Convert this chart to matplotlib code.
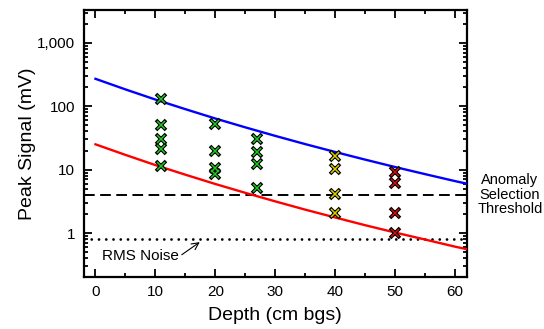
import matplotlib
matplotlib.use("Agg")
import matplotlib.pyplot as plt
from matplotlib.ticker import FixedLocator, LogLocator, NullFormatter, MultipleLocator

plt.rcParams['font.family'] = ['Liberation Sans', 'DejaVu Sans']

# Model envelopes (upper and lower expected peak signal vs depth)
curve_depth = [0, 5, 10, 15, 20, 25, 30, 35, 40, 45, 50, 55, 60, 62]
upper_mv = [271, 184.5, 127.6, 90, 64.1, 46.5, 34.1, 25.3, 19.0, 14.4, 11.0, 8.5, 6.6, 6.0]
lower_mv = [25.1, 17.1, 11.8, 8.33, 5.94, 4.31, 3.16, 2.34, 1.76, 1.33, 1.02, 0.79, 0.61, 0.556]

# Reference levels
threshold_mv = 4.0
rms_noise_mv = 0.8

# Measured peak signals grouped by burial depth
depth_groups = [11, 20, 27, 40, 50]
peak_groups = [
    [130, 51, 31, 21, 11.3],
    [52, 20, 10.5, 8.5],
    [30.5, 18.8, 12.4, 5.1],
    [16.6, 10.3, 4.1, 2.07],
    [9.2, 6.2, 2.07, 1.02],
]
group_colors = ['#22c322', '#22c322', '#22c322', '#d8cc00', '#c81010']

ytick_vals = [1, 10, 100, 1000]
ytick_labels = ['1', '10', '100', '1,000']
xtick_vals = [0, 10, 20, 30, 40, 50, 60]

fig = plt.figure(figsize=(5.44, 3.29), dpi=100)
ax = fig.add_axes([0.1535, 0.159, 0.705, 0.8106])

ax.set_yscale('log')
ax.set_xlim(-2, 62)
ax.set_ylim(0.205, 3300)

ax.plot(curve_depth, upper_mv, color='#0000ff', lw=1.7, zorder=3)
ax.plot(curve_depth, lower_mv, color='#ff0000', lw=1.7, zorder=3)

ax.axhline(threshold_mv, color='black', lw=1.4, dashes=(5.5, 2.8), zorder=2)
ax.axhline(rms_noise_mv, color='black', lw=2.0, dashes=(0.01, 2.6),
           dash_capstyle='round', zorder=2)

for d, vals, c in zip(depth_groups, peak_groups, group_colors):
    xs = [d] * len(vals)
    ax.plot(xs, vals, linestyle='none', marker='x', ms=7.0, mew=2.6,
            color='black', zorder=4)
    ax.plot(xs, vals, linestyle='none', marker='x', ms=6.0, mew=1.1,
            color=c, zorder=5)

ax.text(7.5, 0.44, 'RMS Noise', fontsize=11, ha='center', va='center')
ax.annotate('', xy=(17.4, 0.72), xytext=(14.4, 0.455),
            arrowprops=dict(arrowstyle='->,head_length=0.5,head_width=0.25',
                            color='black', lw=0.8, shrinkA=0, shrinkB=0))

ax.text(1.112, threshold_mv, 'Anomaly\nSelection\nThreshold',
        transform=ax.get_yaxis_transform(), fontsize=10.5, ha='center',
        va='center', linespacing=1.05, clip_on=False)

ax.yaxis.set_major_locator(FixedLocator(ytick_vals))
ax.set_yticklabels(ytick_labels)
ax.yaxis.set_minor_locator(LogLocator(base=10, subs=range(2, 10), numticks=20))
ax.yaxis.set_minor_formatter(NullFormatter())
ax.xaxis.set_major_locator(FixedLocator(xtick_vals))
ax.xaxis.set_minor_locator(MultipleLocator(5))

for s in ax.spines.values():
    s.set_linewidth(1.6)

ax.tick_params(which='both', direction='in', top=True, right=True,
               width=1.3, labelsize=11)
ax.tick_params(which='major', length=5.5, pad=6)
ax.tick_params(which='minor', length=3)

ax.set_xlabel('Depth (cm bgs)', fontsize=14, labelpad=6)
ax.set_ylabel('Peak Signal (mV)', fontsize=14, labelpad=1)

fig.savefig('out.png', dpi=100)
